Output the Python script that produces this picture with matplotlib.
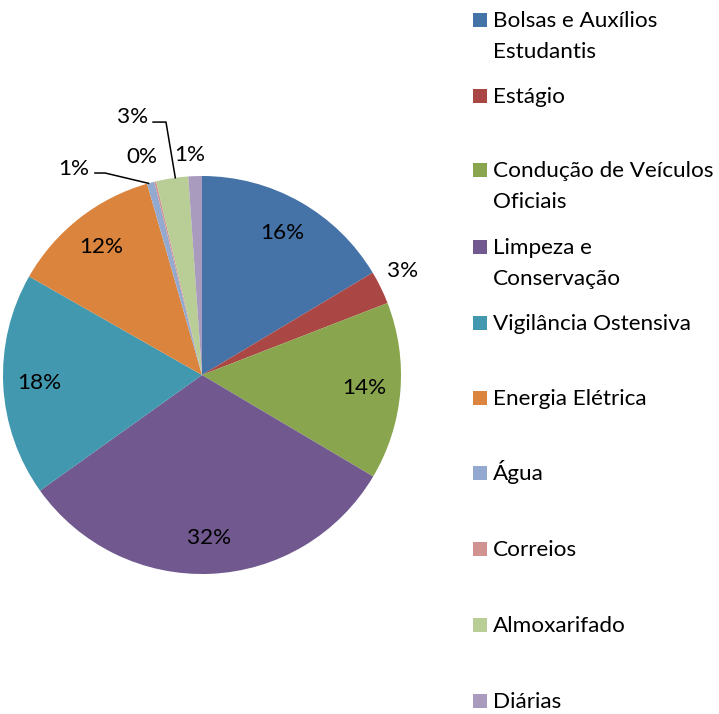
import numpy as np
import matplotlib
matplotlib.use("Agg")
import matplotlib.pyplot as plt
from matplotlib.patches import Rectangle

plt.rcParams['font.family'] = ['Lato', 'DejaVu Sans']

categories = ["Bolsas e Auxílios\nEstudantis", "Estágio", "Condução de Veículos\nOficiais",
              "Limpeza e\nConservação", "Vigilância Ostensiva", "Energia Elétrica",
              "Água", "Correios", "Almoxarifado", "Diárias"]
values = [16.4, 2.7, 14.4, 31.6, 18.1, 12.3, 0.6, 0.15, 2.6, 1.1]
colors = ["#4572A7", "#AA4643", "#89A54E", "#71588F", "#4198AF", "#DB843D",
          "#93A9CF", "#D19392", "#B9CD96", "#A99BBD"]

W, H = 719, 714
FS = 16.2
fig = plt.figure(figsize=(W / 100, H / 100), dpi=100)
cx, cy, R = 202, 375, 199
ax = fig.add_axes([(cx - R) / W, (H - cy - R) / H, 2 * R / W, 2 * R / H])

wedges, texts, autotexts = ax.pie(values, colors=colors, startangle=90, counterclock=False,
                                  autopct='%.0f%%', pctdistance=0.82,
                                  wedgeprops=dict(linewidth=0),
                                  textprops=dict(fontsize=FS, color='black'))
ax.set_xlim(-1, 1)
ax.set_ylim(-1, 1)
ax.set_aspect('equal')

# small-slice label positions (in pie-radius units)
outside_pos = {1: (1.01, 0.523), 6: (-0.643, 1.033), 7: (-0.30, 1.095),
               8: (-0.347, 1.296), 9: (-0.06, 1.106)}
for i, (x, y) in outside_pos.items():
    autotexts[i].set_position((x, y))
    autotexts[i].set_ha('center')
    autotexts[i].set_va('center')

def edge_point(w, frac=0.5):
    a = np.deg2rad(w.theta1 + (w.theta2 - w.theta1) * frac)
    return np.cos(a), np.sin(a)

# leader lines
ex, ey = edge_point(wedges[8], 0.4)
ax.plot([-0.246, -0.181, ex], [1.271, 1.271, ey], color='black', lw=1.1, clip_on=False)
ex, ey = edge_point(wedges[6], 0.8)
ax.plot([-0.538, -0.487, ex], [1.015, 1.015, ey], color='black', lw=1.1, clip_on=False)

# legend
legend_y = [20, 96, 170, 247, 323, 398, 473, 549, 625, 701]
for lab, col, y in zip(categories, colors, legend_y):
    fig.patches.append(Rectangle((473 / W, 1 - (y + 7) / H), 14 / W, 14 / H,
                                 transform=fig.transFigure, facecolor=col, edgecolor='none'))
    for k, line in enumerate(lab.split("\n")):
        fig.text(493 / W, 1 - (y + 7 + 31 * k) / H, line, fontsize=FS,
                 ha='left', va='baseline', color='black')

fig.savefig("out.png", dpi=100)
